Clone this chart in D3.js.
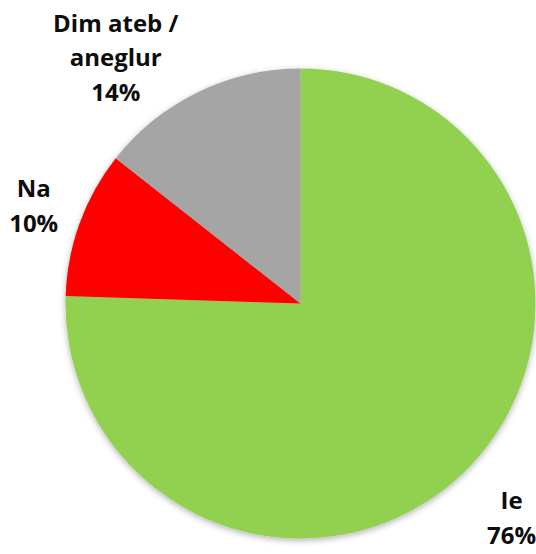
<!DOCTYPE html>
<html>
<head>
<meta charset="utf-8">
<script src="https://cdn.jsdelivr.net/npm/d3@7"></script>
<style>
	body { margin: 0; background: #fff; }
	svg { display: block; }
</style>
</head>
<body>
<script>

// data (share of answers, %)
var categories = ["Ie", "Na", "Dim ateb / aneglur"];
var values = [75.5, 10.1, 14.4];
var colors = ["#92D050", "#FF0000", "#A5A5A5"];

var w = 536;
var h = 554;
var cx = 300.5;
var cy = 303.5;
var radius = 235;

// labels sit just outside the rim, small nudges to mimic excel "best fit"
var labelGap = 10;
var labelNudge = [[16, 14], [-12, -2], [-15, 21]];
var fontSize = 24;
var lineH = 34.5;

var svg = d3.select("body")
	.append("svg")
	.attr("width", w)
	.attr("height", h);

// soft shadow like the office chart
var filter = svg.append("defs").append("filter")
	.attr("id", "shadow")
	.attr("x", "-10%").attr("y", "-10%")
	.attr("width", "120%").attr("height", "120%");
filter.append("feDropShadow")
	.attr("dx", 0)
	.attr("dy", 2)
	.attr("stdDeviation", 3)
	.attr("flood-color", "#000")
	.attr("flood-opacity", 0.3);

var g = svg.append("g")
	.attr("transform", "translate(" + cx + "," + cy + ")");

var dataset = categories.map(function(c, i) {
	return {name: c, value: values[i], color: colors[i], idx: i};
});

var pie = d3.pie()
	.sort(null)
	.value(function(d) { return d.value; });

var arc = d3.arc()
	.innerRadius(0)
	.outerRadius(radius);

var arcs = pie(dataset);

g.append("g")
	.attr("filter", "url(#shadow)")
	.selectAll("path")
	.data(arcs)
	.enter()
	.append("path")
	.attr("d", arc)
	.attr("fill", function(d) { return d.data.color; });

// labels: name (wrapped) + rounded percentage
var total = d3.sum(values);
var labels = g.selectAll(".label")
	.data(arcs)
	.enter()
	.append("text")
	.attr("class", "label")
	.attr("text-anchor", "middle")
	.style("font-family", "'Open Sans', sans-serif")
	.style("font-weight", "bold")
	.style("font-size", fontSize + "px")
	.attr("fill", "#0d0d0d");

labels.each(function(d) {
	var text = d3.select(this);
	var words = d.data.name.split(" ");
	var lines = [];
	var line = [];
	var probe = text.append("tspan");
	words.forEach(function(word) {
		line.push(word);
		probe.text(line.join(" "));
		if (probe.node().getComputedTextLength() > 130 && line.length > 1) {
			line.pop();
			lines.push(line.join(" "));
			line = [word];
		}
	});
	lines.push(line.join(" "));
	probe.remove();
	lines.push(Math.round(d.data.value / total * 100) + "%");

	var spans = lines.map(function(l) {
		return text.append("tspan").text(l);
	});
	var bw = d3.max(spans, function(s) { return s.node().getComputedTextLength(); });
	var bh = lines.length * lineH;

	var a = (d.startAngle + d.endAngle) / 2;
	var r = radius + labelGap;
	var px = Math.sin(a) * r;
	var py = -Math.cos(a) * r;
	var sx = Math.sin(a) >= 0 ? 1 : -1;
	var nudge = labelNudge[d.data.idx];
	var mx = px + sx * bw / 2 + nudge[0];
	var my = py - Math.cos(a) * bh / 2 + nudge[1];
	var top = my - bh / 2;

	spans.forEach(function(s, i) {
		s.attr("x", mx)
		 .attr("y", top + i * lineH + lineH / 2 + fontSize * 0.35);
	});
});

</script>
</body>
</html>
